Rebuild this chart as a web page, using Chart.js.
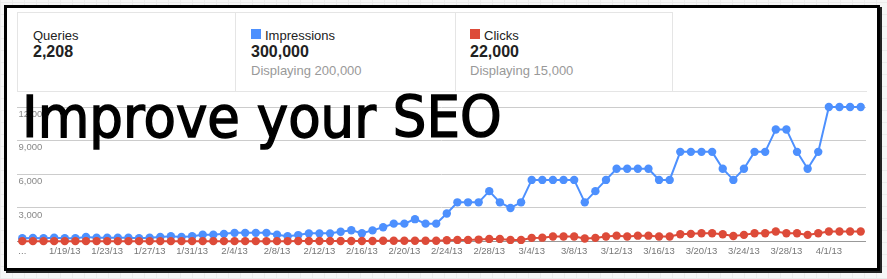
<!DOCTYPE html>
<html>
<head>
<meta charset="utf-8">
<script src="https://cdn.jsdelivr.net/npm/chart.js@4.4.0/dist/chart.umd.min.js"></script>
<style>
  html, body { margin: 0; padding: 0; }
  body {
    width: 887px; height: 279px; position: relative; overflow: hidden;
    background-color: #f6f6f6;
    background-image:
      repeating-linear-gradient(0deg, #ebebeb 0 1px, transparent 1px 12px),
      repeating-linear-gradient(90deg, #ebebeb 0 1px, transparent 1px 12px);
    font-family: Arial, "Liberation Sans", sans-serif;
  }
  #frame {
    position: absolute; left: 4px; top: 5px; width: 876px; height: 266px;
    box-sizing: border-box; border: 3px solid #000; background: #fff;
    box-shadow: 2px 2px 0 #222;
  }
  .cell {
    position: absolute; top: 12px; height: 80px; box-sizing: border-box;
    border: 1px solid #e5e5e5; border-bottom: none;
  }
  #hline { position: absolute; left: 17px; top: 91px; width: 850px; height: 1px; background: #e5e5e5; }
  .t { position: absolute; white-space: nowrap; }
  .name { font-size: 13px; line-height: 15px; color: #222; }
  .big { font-size: 16px; line-height: 18px; font-weight: bold; color: #222; }
  .sub { font-size: 13px; line-height: 15px; color: #999; }
  .sq { position: absolute; width: 10px; height: 10px; }
  #wrap { position: absolute; left: 0; top: 0; width: 887px; height: 279px; }
  #title {
    position: absolute; left: 22px; top: 89px; font-family: "DejaVu Sans", sans-serif;
    font-size: 57px; line-height: 57px; color: #000; white-space: nowrap;
    transform: scaleX(0.93); transform-origin: left top; -webkit-text-stroke: 1.5px #000;
  }
</style>
</head>
<body>
<div id="frame"></div>
<div class="cell" style="left:17px;width:219px"></div>
<div class="cell" style="left:235px;width:221px"></div>
<div class="cell" style="left:455px;width:218px"></div>
<div id="hline"></div>

<div class="t name" style="left:33px;top:28px">Queries</div>
<div class="t big" style="left:33px;top:43px">2,208</div>

<div class="sq" style="left:251px;top:29px;background:#4d90fe"></div>
<div class="t name" style="left:265px;top:28px">Impressions</div>
<div class="t big" style="left:251px;top:43px">300,000</div>
<div class="t sub" style="left:251px;top:63px">Displaying 200,000</div>

<div class="sq" style="left:470px;top:29px;background:#dd4b39"></div>
<div class="t name" style="left:484px;top:28px">Clicks</div>
<div class="t big" style="left:470px;top:43px">22,000</div>
<div class="t sub" style="left:470px;top:63px">Displaying 15,000</div>

<div id="wrap"><canvas id="chart"></canvas></div>
<div id="title">Improve your SEO</div>

<script>
const dates = [
  "1/15/13","1/16/13","1/17/13","1/18/13","1/19/13","1/20/13","1/21/13","1/22/13","1/23/13","1/24/13",
  "1/25/13","1/26/13","1/27/13","1/28/13","1/29/13","1/30/13","1/31/13","2/1/13","2/2/13","2/3/13",
  "2/4/13","2/5/13","2/6/13","2/7/13","2/8/13","2/9/13","2/10/13","2/11/13","2/12/13","2/13/13",
  "2/14/13","2/15/13","2/16/13","2/17/13","2/18/13","2/19/13","2/20/13","2/21/13","2/22/13","2/23/13",
  "2/24/13","2/25/13","2/26/13","2/27/13","2/28/13","3/1/13","3/2/13","3/3/13","3/4/13","3/5/13",
  "3/6/13","3/7/13","3/8/13","3/9/13","3/10/13","3/11/13","3/12/13","3/13/13","3/14/13","3/15/13",
  "3/16/13","3/17/13","3/18/13","3/19/13","3/20/13","3/21/13","3/22/13","3/23/13","3/24/13","3/25/13",
  "3/26/13","3/27/13","3/28/13","3/29/13","3/30/13","3/31/13","4/1/13","4/2/13","4/3/13","4/4/13"
];

const impressions = [
  300, 330, 300, 350, 300, 300, 420, 350, 350, 350,
  350, 300, 350, 420, 480, 420, 480, 620, 620, 690,
  780, 780, 780, 780, 620, 480, 580, 735, 735, 735,
  880, 1015, 740, 1000, 1280, 1600, 1600, 2000, 1600, 1600,
  2500, 3500, 3500, 3500, 4500, 3500, 3000, 3500, 5500, 5500,
  5500, 5500, 5500, 3500, 4500, 5500, 6500, 6500, 6500, 6500,
  5500, 5500, 8000, 8000, 8000, 8000, 6500, 5500, 6500, 8000,
  8000, 10000, 10000, 8000, 6500, 8000, 12000, 12000, 12000, 12000
];

const clicks = [
  40, 40, 40, 40, 40, 40, 40, 40, 40, 40,
  40, 40, 40, 40, 40, 40, 40, 40, 40, 40,
  40, 40, 40, 40, 40, 40, 50, 50, 50, 60,
  60, 60, 60, 60, 70, 70, 70, 80, 80, 80,
  120, 150, 150, 180, 240, 240, 150, 150, 330, 350,
  460, 460, 460, 270, 330, 450, 530, 450, 530, 530,
  450, 450, 660, 690, 740, 740, 650, 500, 600, 740,
  740, 900, 740, 740, 600, 740, 900, 900, 900, 900
];

const yTicks = [0, 3000, 6000, 9000, 12000];

const blue = "#4d90fe";
const red = "#dd4b39";

function series(label, data, color, order) {
  return {
    label: label,
    data: data,
    borderColor: color,
    backgroundColor: color,
    pointBackgroundColor: color,
    pointBorderWidth: 0,
    pointRadius: 4.2,
    pointHoverRadius: 4.2,
    borderWidth: 2,
    tension: 0,
    clip: false,
    order: order,
  };
}

new Chart(document.getElementById("chart"), {
  type: "line",
  data: {
    labels: dates,
    datasets: [
      series("Impressions", impressions, blue, 2),
      series("Clicks", clicks, red, 1),
    ],
  },
  options: {
    responsive: true,
    maintainAspectRatio: false,
    devicePixelRatio: 1,
    animation: false,
    layout: { padding: { left: 14, right: 21, top: 107, bottom: 18 } },
    plugins: { legend: { display: false }, tooltip: { enabled: false } },
    scales: {
      x: {
        offset: true,
        grid: { display: false, drawTicks: false },
        border: { display: false },
        ticks: {
          autoSkip: false,
          maxRotation: 0,
          padding: 4,
          color: "#777",
          font: { family: "Arial", size: 9.5 },
          callback: function (v, i) {
            if (i % 4 !== 0) return "";
            return i === 0 ? "..." : dates[i];
          },
        },
      },
      y: {
        min: 0,
        max: 12000,
        afterBuildTicks: (scale) => {
          scale.ticks = yTicks.map((v) => ({ value: v }));
        },
        border: { display: false },
        grid: {
          drawTicks: false,
          color: (ctx) => (ctx.tick && ctx.tick.value === 0 ? "#999" : "#ccc"),
        },
        ticks: {
          mirror: true,
          padding: 1.5,
          labelOffset: 7,
          color: "#888",
          font: { family: "Arial", size: 9.5 },
          callback: (v) => (v === 0 ? "" : v.toLocaleString("en-US")),
        },
      },
    },
  },
});
</script>
</body>
</html>
